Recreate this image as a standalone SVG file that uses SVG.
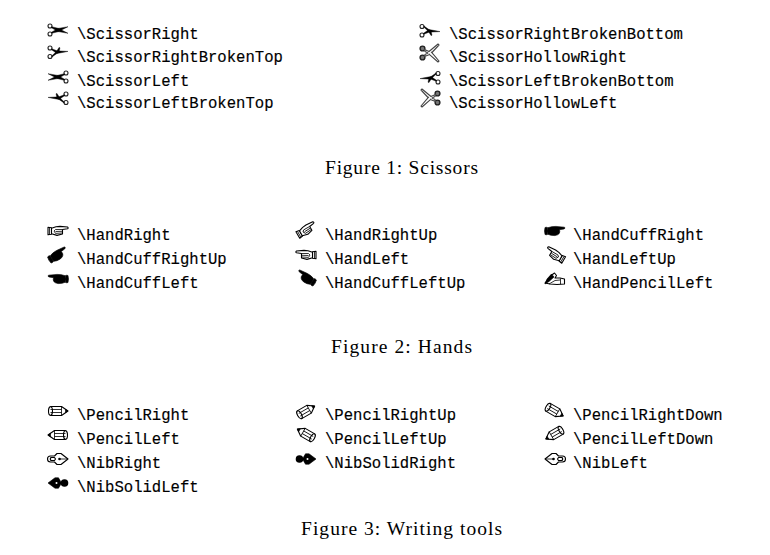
<svg xmlns="http://www.w3.org/2000/svg" xmlns:xlink="http://www.w3.org/1999/xlink" width="770" height="555" viewBox="0 0 770 555">
<style>
.t{font-family:"Liberation Mono",monospace;font-size:15.6px;fill:#000;stroke:#000;stroke-width:.15}
.c{font-family:"Liberation Serif",serif;font-size:19.5px;fill:#000}
.r{fill:none;stroke:#222;stroke-width:1.1}
.rh{fill:#777;stroke:#222;stroke-width:1.4}
.b{fill:#000;stroke:#000;stroke-width:.4;stroke-linejoin:round}
.bh{fill:#fff;stroke:#444;stroke-width:1.1;stroke-linejoin:round}
.o{fill:#fff;stroke:#000;stroke-width:1.1;stroke-linejoin:round;stroke-linecap:round}
.k{fill:#000;stroke:#000;stroke-width:.6;stroke-linejoin:round}
.l{fill:none;stroke:#000;stroke-width:.8}
</style>
<defs>
<g id="sr">
<circle class="r" cx="-8" cy="-4" r="2"/><circle class="r" cx="-8" cy="4" r="2"/>
<path class="b" d="M-6.3,-3.3 L0,-1.8 L10,3.3 L0,1.6 L-6.5,-2.2Z"/>
<path class="b" d="M-6.3,3.3 L0,1.8 L10,-3.3 L0,-1.6 L-6.5,2.2Z"/>
</g>
<g id="srt">
<circle class="r" cx="-8" cy="-4" r="2"/><circle class="r" cx="-8" cy="4.5" r="2"/>
<path class="b" d="M-6.3,-3.3 L-1,-1.2 L10,-0.6 L-1,1.5 L-6.5,-2.3Z"/>
<path class="b" d="M-6.3,4 L-1.5,-0.5 L1,-4.5 L2,-4.2 L1,0 L-6,5Z"/>
</g>
<g id="sh">
<circle class="rh" cx="-7.500" cy="-4.500" r="2.400"/><circle class="rh" cx="-7.500" cy="4.500" r="2.400"/>
<path class="bh" d="M-5.500,-3.500 L-1,-1.500 L8,-9 L9,-8 L1.500,0 L-1,1.800 L-5.500,3.500 L-5,1.500 L-2,0 L-5,-1.500Z"/>
<path class="bh" d="M1.200,-1.200 L9,8 L8,9 L-1,1.200"/>
</g>
<g id="hr">
<path class="o" d="M-10,-3.8 L-6.500,-3.200 L-6.500,3.200 L-10,3.800Z"/>
<path class="o" d="M-6.500,-2.800 L-2,-4.200 L2,-4.600 L9.500,-4 Q10.800,-3 9.500,-2.200 L4.500,-1.500 L4.500,3 L-1,4.400 L-6.500,2.800Z"/>
<path class="l" d="M-2.500,-1.500 L4,-1.500 M-2.500,.5 L4,.3 M-2.500,2.400 L4,2 M-8.500,-3 L-8.500,3 M-2.500,-1.500 L-4,0 L-2.500,2.400"/>
</g>
<g id="hc">
<path class="k" d="M-10,-3.500 Q-8.500,-4 -7.500,-3.500 Q-6.500,0 -7.500,3.500 Q-8.500,4 -10,3.500 Q-11,0 -10,-3.500Z"/>
<path class="k" d="M-7,-3.300 Q-3,-4.800 1,-4.600 L9.500,-3.800 Q10.800,-2.800 9,-2 L4.500,-1.300 Q6,3.500 0,4.600 Q-4,4.800 -7,3.300Z"/>
</g>
<g id="hp">
<path class="o" d="M-10,4 L-4,-3.500 L-.5,-6 L1.500,-3.500 L0,-1 L5,-1 L9.500,0 L9.500,5 L2,5.500 L-5,5Z"/>
<path class="k" d="M-10,5 L-8,0 L-3.500,-5 L-1,-2 L-6,2.500Z"/>
<path class="l" d="M-6,5 L0,1.500 L5,1 M5.500,-.5 L5.500,5.200"/>
</g>
<g id="pr">
<path class="o" d="M-7.500,-4.500 L3.500,-4.500 L10,0 L3.500,4.500 L-7.500,4.500 Q-10.500,0 -7.500,-4.500Z"/>
<ellipse class="o" cx="-7.500" cy="0" rx="2" ry="4.300"/>
<path class="l" d="M-7.500,-1.500 L3.500,-1.500 M-7.500,1.500 L3.500,1.500 M3.500,-4.500 L3.500,4.500"/>
<path class="k" d="M7.500,-1.700 L10,0 L7.500,1.700Z"/>
</g>
<g id="nr">
<path class="o" d="M-10.500,0 Q-10.500,-3 -7.500,-3 L-3.500,-3 L-1,-5.500 L3,-5.500 L10,0 L3,5.500 L-1,5.500 L-3.500,3 L-7.500,3 Q-10.500,3 -10.500,0Z"/>
<path class="o" d="M-7,-1.500 L-3.500,-1.500 L-2.500,0 L-3.500,1.500 L-7,1.500 Q-8.500,0 -7,-1.500Z"/>
<circle cx="1.500" cy="0" r="1.300" fill="#000"/>
<path class="l" d="M1.500,0 L9.500,0"/>
</g>
<g id="ns">
<circle cx="-6.500" cy="0" r="3.800" fill="#000"/>
<path class="k" d="M-3.500,0 L-.5,-5.200 L3,-5.200 L10,0 L3,5.200 L-.5,5.200Z"/>
<circle cx="1.500" cy="0" r="1" fill="#fff"/>
</g>
</defs>

<g id="connectors"/>

<g id="scissorright"><use href="#sr" xlink:href="#sr" transform="translate(58,30)"/><text class="t" x="77" y="39">\ScissorRight</text></g>
<g id="scissorrightbrokentop"><use href="#srt" xlink:href="#srt" transform="translate(58,52)"/><text class="t" x="77" y="62">\ScissorRightBrokenTop</text></g>
<g id="scissorleft"><use href="#sr" xlink:href="#sr" transform="translate(58,77) scale(-1,1)"/><text class="t" x="77" y="86">\ScissorLeft</text></g>
<g id="scissorleftbrokentop"><use href="#srt" xlink:href="#srt" transform="translate(58,98) scale(-1,1)"/><text class="t" x="77" y="108">\ScissorLeftBrokenTop</text></g>
<g id="scissorrightbrokenbottom"><use href="#srt" xlink:href="#srt" transform="translate(430,31) scale(1,-1)"/><text class="t" x="449" y="39">\ScissorRightBrokenBottom</text></g>
<g id="scissorhollowright"><use href="#sh" xlink:href="#sh" transform="translate(430,53)"/><text class="t" x="449" y="62">\ScissorHollowRight</text></g>
<g id="scissorleftbrokenbottom"><use href="#srt" xlink:href="#srt" transform="translate(430,78) scale(-1,-1)"/><text class="t" x="449" y="86">\ScissorLeftBrokenBottom</text></g>
<g id="scissorhollowleft"><use href="#sh" xlink:href="#sh" transform="translate(430,98) scale(-1,1)"/><text class="t" x="449" y="108">\ScissorHollowLeft</text></g>
<text class="c" id="caption1" x="325" y="173.500" textLength="153" lengthAdjust="spacing">Figure 1: Scissors</text>

<g id="handright"><use href="#hr" xlink:href="#hr" transform="translate(58,231)"/><text class="t" x="77" y="240">\HandRight</text></g>
<g id="handcuffrightup"><use href="#hc" xlink:href="#hc" transform="translate(58,255) rotate(-30)"/><text class="t" x="77" y="264">\HandCuffRightUp</text></g>
<g id="handcuffleft"><use href="#hc" xlink:href="#hc" transform="translate(58,279) scale(-1,1)"/><text class="t" x="77" y="288">\HandCuffLeft</text></g>
<g id="handrightup"><use href="#hr" xlink:href="#hr" transform="translate(306.500,230) rotate(-30)"/><text class="t" x="325" y="240">\HandRightUp</text></g>
<g id="handleft"><use href="#hr" xlink:href="#hr" transform="translate(306,255) scale(-1,1)"/><text class="t" x="325" y="264">\HandLeft</text></g>
<g id="handcuffleftup"><use href="#hc" xlink:href="#hc" transform="translate(306,278) rotate(30) scale(-1,1)"/><text class="t" x="325" y="288">\HandCuffLeftUp</text></g>
<g id="handcuffright"><use href="#hc" xlink:href="#hc" transform="translate(555,231)"/><text class="t" x="573" y="240">\HandCuffRight</text></g>
<g id="handleftup"><use href="#hr" xlink:href="#hr" transform="translate(555,255) rotate(30) scale(-1,1)"/><text class="t" x="573" y="264">\HandLeftUp</text></g>
<g id="handpencilleft"><use href="#hp" xlink:href="#hp" transform="translate(555,279)"/><text class="t" x="573" y="288">\HandPencilLeft</text></g>
<text class="c" id="caption2" x="331" y="352.500" textLength="141" lengthAdjust="spacing">Figure 2: Hands</text>

<g id="pencilright"><use href="#pr" xlink:href="#pr" transform="translate(58,411)"/><text class="t" x="77" y="420">\PencilRight</text></g>
<g id="pencilleft"><use href="#pr" xlink:href="#pr" transform="translate(58,435) scale(-1,1)"/><text class="t" x="77" y="444">\PencilLeft</text></g>
<g id="nibright"><use href="#nr" xlink:href="#nr" transform="translate(58,459)"/><text class="t" x="77" y="468">\NibRight</text></g>
<g id="nibsolidleft"><use href="#ns" xlink:href="#ns" transform="translate(58,483) scale(-1,1)"/><text class="t" x="77" y="492">\NibSolidLeft</text></g>
<g id="pencilrightup"><use href="#pr" xlink:href="#pr" transform="translate(306,411) rotate(-30)"/><text class="t" x="325" y="420">\PencilRightUp</text></g>
<g id="pencilleftup"><use href="#pr" xlink:href="#pr" transform="translate(306,434) rotate(30) scale(-1,1)"/><text class="t" x="325" y="444">\PencilLeftUp</text></g>
<g id="nibsolidright"><use href="#ns" xlink:href="#ns" transform="translate(306,459)"/><text class="t" x="325" y="468">\NibSolidRight</text></g>
<g id="pencilrightdown"><use href="#pr" xlink:href="#pr" transform="translate(554.500,411) rotate(30)"/><text class="t" x="573" y="420">\PencilRightDown</text></g>
<g id="pencilleftdown"><use href="#pr" xlink:href="#pr" transform="translate(554.500,434) rotate(-30) scale(-1,1)"/><text class="t" x="573" y="444">\PencilLeftDown</text></g>
<g id="nibleft"><use href="#nr" xlink:href="#nr" transform="translate(555,459) scale(-1,1)"/><text class="t" x="573" y="468">\NibLeft</text></g>
<text class="c" id="caption3" x="301" y="534.500" textLength="201" lengthAdjust="spacing">Figure 3: Writing tools</text>
</svg>
